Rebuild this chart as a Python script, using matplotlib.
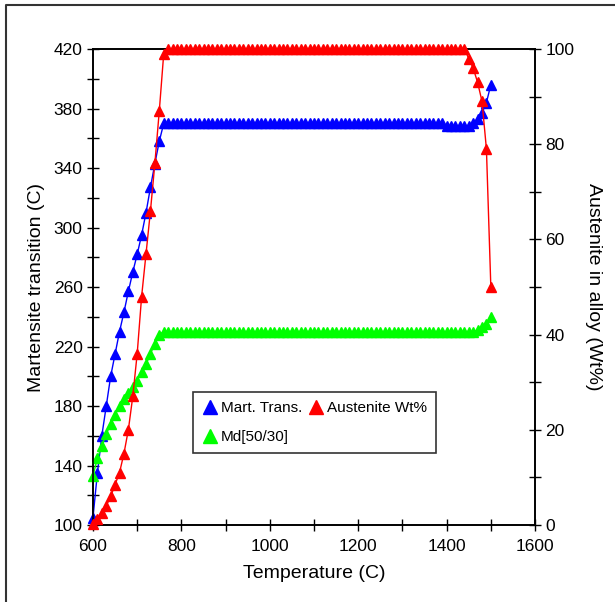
import numpy as np
import matplotlib
matplotlib.use('Agg')
import matplotlib.pyplot as plt
from matplotlib.lines import Line2D

plt.rcParams['font.family'] = ['Liberation Sans', 'DejaVu Sans']

# Temperature grid (C), one point every 10 C
temperature = np.arange(600, 1510, 10)

# Martensite transition (C), left axis
mart_trans = [
    105, 135, 160, 180, 200, 215, 230, 243, 257, 270,
    282, 295, 310, 327, 343, 358, 370, 370, 370, 370,
    370, 370, 370, 370, 370, 370, 370, 370, 370, 370,
    370, 370, 370, 370, 370, 370, 370, 370, 370, 370,
    370, 370, 370, 370, 370, 370, 370, 370, 370, 370,
    370, 370, 370, 370, 370, 370, 370, 370, 370, 370,
    370, 370, 370, 370, 370, 370, 370, 370, 370, 370,
    370, 370, 370, 370, 370, 370, 370, 370, 370, 370,
    368, 368, 368, 368, 368, 368, 370, 373, 377, 384,
    396,
]

# Md[50/30] (C), left axis
md_50_30 = [
    133, 145, 153, 161, 168, 174, 180, 185, 189, 193,
    197, 203, 208, 215, 222, 228, 230, 230, 230, 230,
    230, 230, 230, 230, 230, 230, 230, 230, 230, 230,
    230, 230, 230, 230, 230, 230, 230, 230, 230, 230,
    230, 230, 230, 230, 230, 230, 230, 230, 230, 230,
    230, 230, 230, 230, 230, 230, 230, 230, 230, 230,
    230, 230, 230, 230, 230, 230, 230, 230, 230, 230,
    230, 230, 230, 230, 230, 230, 230, 230, 230, 230,
    230, 230, 230, 230, 230, 230, 230, 231, 233, 235,
    240,
]

# Austenite in alloy (Wt%), right axis
austenite = [
    0.3, 1.2, 2.5, 4, 6, 8.5, 11, 15, 20, 27,
    36, 48, 57, 66, 76, 87, 99, 100, 100, 100,
    100, 100, 100, 100, 100, 100, 100, 100, 100, 100,
    100, 100, 100, 100, 100, 100, 100, 100, 100, 100,
    100, 100, 100, 100, 100, 100, 100, 100, 100, 100,
    100, 100, 100, 100, 100, 100, 100, 100, 100, 100,
    100, 100, 100, 100, 100, 100, 100, 100, 100, 100,
    100, 100, 100, 100, 100, 100, 100, 100, 100, 100,
    100, 100, 100, 100, 100, 98, 96, 93, 89, 79,
    50,
]

fig = plt.figure(figsize=(6.15, 6.02), dpi=100)
ax1 = fig.add_axes([0.1512, 0.1279, 0.7188, 0.7907])
ax2 = ax1.twinx()

ms = 7.5
ax1.plot(temperature, mart_trans, color='#0000ff', lw=1, marker='^', ms=ms, clip_on=False, zorder=3)
ax1.plot(temperature, md_50_30, color='#00ff00', lw=1, marker='^', ms=ms, clip_on=False, zorder=3)
ax2.plot(temperature, austenite, color='#ff0000', lw=1, marker='^', ms=ms, clip_on=False, zorder=3)

ax1.set_xlim(600, 1600)
ax1.set_ylim(100, 420)
ax2.set_ylim(0, 100)

ax1.set_xticks(np.arange(600, 1601, 200))
ax1.set_xticks(np.arange(600, 1601, 100), minor=True)
ax1.set_yticks(np.arange(100, 421, 40))
ax1.set_yticks(np.arange(100, 421, 20), minor=True)
ax2.set_yticks(np.arange(0, 101, 20))
ax2.set_yticks(np.arange(0, 101, 10), minor=True)

for ax in (ax1, ax2):
    ax.tick_params(which='both', direction='inout', length=8, width=1, labelsize=12.5, colors='black')
    for s in ax.spines.values():
        s.set_linewidth(1.2)
ax1.tick_params(axis='x', pad=6)

ax1.set_xlabel('Temperature (C)', fontsize=14, labelpad=8)
ax1.set_ylabel('Martensite transition (C)', fontsize=14, labelpad=6)
ax2.set_ylabel('Austenite in alloy (Wt%)', fontsize=14, rotation=270, labelpad=20)

handles = [
    Line2D([], [], color='#0000ff', marker='^', ms=10, ls='none'),
    Line2D([], [], color='#00ff00', marker='^', ms=10, ls='none'),
    Line2D([], [], color='#ff0000', marker='^', ms=10, ls='none'),
]
labels = ['Mart. Trans.', 'Md[50/30]', 'Austenite Wt%']
leg = ax2.legend(handles, labels, ncol=2, loc='lower left', bbox_to_anchor=(0.21, 0.135),
                 fontsize=11, frameon=True, fancybox=False, edgecolor='black',
                 handlelength=1.0, handletextpad=0.2, columnspacing=0.4,
                 borderpad=0.6, labelspacing=0.95)
leg.get_frame().set_linewidth(1.2)
leg.set_zorder(10)

# outer frame of the original picture
fig.add_artist(Line2D([6 / 615, 6 / 615, 1.0], [0.0, 1 - 5 / 602, 1 - 5 / 602],
                      transform=fig.transFigure, color='#333333', lw=1.5))

plt.savefig('out.png', dpi=100)
